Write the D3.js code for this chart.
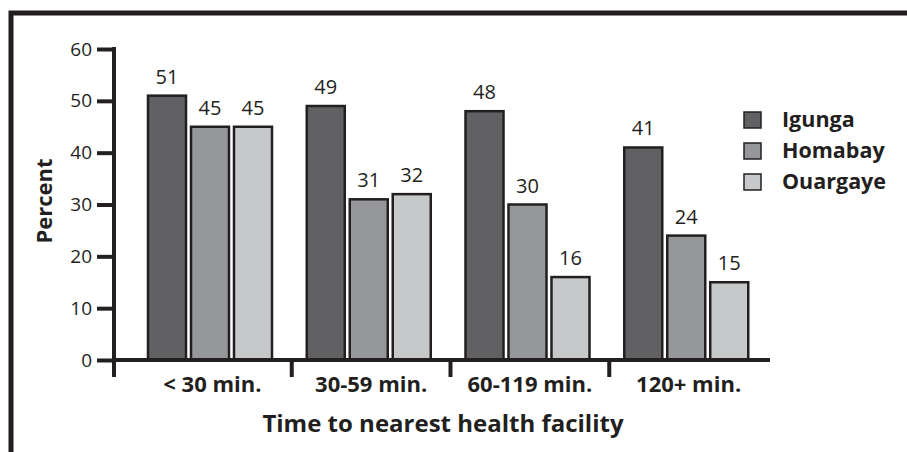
<!DOCTYPE html>
<html>
<head>
<meta charset="utf-8">
<script src="https://cdn.jsdelivr.net/npm/d3@7/dist/d3.min.js"></script>
<style>
  html, body { margin: 0; padding: 0; background: #fff; }
  svg { display: block; }
  text { font-family: "Open Sans", Lato, sans-serif; fill: #231f20; }
</style>
</head>
<body>
<svg id="chart" width="907" height="452"></svg>
<script>
// Share of respondents by travel time to the nearest health facility
const categories = ["< 30 min.", "30-59 min.", "60-119 min.", "120+ min."];
const seriesNames = ["Igunga", "Homabay", "Ouargaye"];
const igunga = [51, 49, 48, 41];
const homabay = [45, 31, 30, 24];
const ouargaye = [45, 32, 16, 15];
const yTicks = [0, 10, 20, 30, 40, 50, 60];
const seriesColors = ["#616163", "#96979a", "#c7c8ca"];

const seriesValues = [igunga, homabay, ouargaye];
const ink = "#231f20";
const font = "'Open Sans', Lato, sans-serif";

const svg = d3.select("#chart");

// Outer frame (only top and left edges fall inside the view)
svg.append("rect")
  .attr("x", 11).attr("y", 13)
  .attr("width", 1000).attr("height", 1000)
  .attr("fill", "none").attr("stroke", ink).attr("stroke-width", 5);

const axisX = 114;
const y = d3.scaleLinear().domain([0, 60]).range([360, 49]);
const x0 = d3.scaleBand().domain(categories).range([133, 768]);
const groupOffset = 15;
const x1 = d3.scaleBand().domain(seriesNames).range([0, 124]).paddingInner(0.116);
const color = d3.scaleOrdinal().domain(seriesNames).range(seriesColors);

// Bars
const groups = svg.append("g").selectAll("g")
  .data(categories)
  .join("g")
  .attr("transform", d => `translate(${x0(d) + groupOffset},0)`);

const barData = (cat, i) => seriesNames.map((s, k) => ({ series: s, value: seriesValues[k][i] }));

groups.selectAll("rect")
  .data(barData)
  .join("rect")
  .attr("x", d => x1(d.series))
  .attr("y", d => y(d.value))
  .attr("width", x1.bandwidth())
  .attr("height", d => y(0) - y(d.value))
  .attr("fill", d => color(d.series))
  .attr("stroke", ink)
  .attr("stroke-width", 2.5);

groups.selectAll("text")
  .data(barData)
  .join("text")
  .attr("x", d => x1(d.series) + x1.bandwidth() / 2)
  .attr("y", d => y(d.value) - 12)
  .attr("text-anchor", "middle")
  .attr("font-size", 20)
  .text(d => d.value);

// Y axis
const yAxis = svg.append("g")
  .attr("transform", `translate(${axisX},0)`)
  .call(d3.axisLeft(y).tickValues(yTicks).tickSize(17).tickSizeOuter(0).tickPadding(5));
yAxis.select(".domain").remove();
yAxis.selectAll(".tick line").attr("stroke", ink).attr("stroke-width", 4);
yAxis.selectAll(".tick text").attr("font-size", 19).attr("fill", ink)
  .attr("font-family", font);
yAxis.append("line")
  .attr("x1", 0).attr("x2", 0)
  .attr("y1", y(60) - 2).attr("y2", y(0) + 17)
  .attr("stroke", ink).attr("stroke-width", 4);

// X axis
const xAxis = svg.append("g")
  .attr("transform", `translate(0,${y(0)})`)
  .call(d3.axisBottom(x0).tickSize(0).tickPadding(0));
xAxis.select(".domain").remove();
xAxis.selectAll(".tick text")
  .attr("y", 0).attr("dy", 32)
  .attr("font-size", 22).attr("font-weight", "bold").attr("fill", ink)
  .attr("font-family", font);
xAxis.append("line")
  .attr("x1", axisX).attr("x2", 770)
  .attr("y1", 0).attr("y2", 0)
  .attr("stroke", ink).attr("stroke-width", 4);
xAxis.selectAll("line.sep")
  .data(categories.slice(1))
  .join("line")
  .attr("class", "sep")
  .attr("x1", d => x0(d)).attr("x2", d => x0(d))
  .attr("y1", 0).attr("y2", 17)
  .attr("stroke", ink).attr("stroke-width", 4);

// Axis titles
svg.append("text")
  .attr("x", 443).attr("y", 432)
  .attr("text-anchor", "middle")
  .attr("font-size", 24).attr("font-weight", "bold")
  .text("Time to nearest health facility");

svg.append("text")
  .attr("transform", "translate(52,201) rotate(-90)")
  .attr("text-anchor", "middle")
  .attr("font-size", 22).attr("font-weight", "bold")
  .text("Percent");

// Legend
const legend = svg.append("g").selectAll("g")
  .data(seriesNames)
  .join("g")
  .attr("transform", (d, i) => `translate(744,${112 + i * 31})`);
legend.append("rect")
  .attr("width", 17).attr("height", 16)
  .attr("fill", d => color(d))
  .attr("stroke", ink).attr("stroke-width", 1.5);
legend.append("text")
  .attr("x", 38).attr("y", 15)
  .attr("font-size", 21.5).attr("font-weight", "bold")
  .text(d => d);
</script>
</body>
</html>
